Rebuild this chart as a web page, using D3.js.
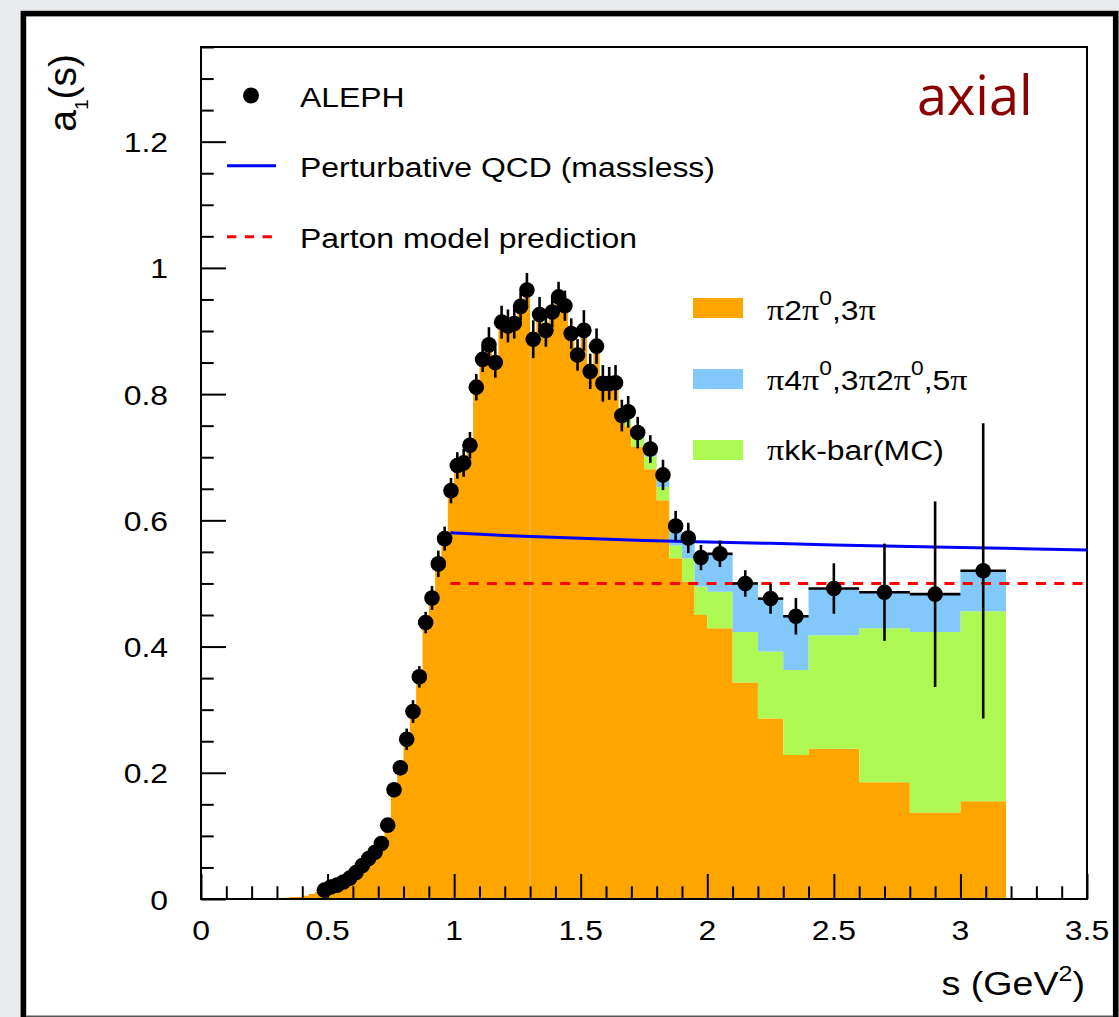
<!DOCTYPE html>
<html>
<head>
<meta charset="utf-8">
<script src="https://cdn.jsdelivr.net/npm/d3@7"></script>
<style>
  html, body { margin: 0; padding: 0; background: #e9ebee; }
  svg { display: block; }
  text { font-family: "Liberation Sans", Arial, Helvetica, sans-serif; fill: #000; }
</style>
</head>
<body>
<svg id="chart" width="1119" height="1017"></svg>
<script>
// ---- Binning (GeV^2): fine 0.025 bins up to 1.7, then progressively wider ----
const binEdges = [
  0.300, 0.325, 0.350, 0.375, 0.400, 0.425, 0.450, 0.475, 0.500, 0.525,
  0.550, 0.575, 0.600, 0.625, 0.650, 0.675, 0.700, 0.725, 0.750, 0.775,
  0.800, 0.825, 0.850, 0.875, 0.900, 0.925, 0.950, 0.975, 1.000, 1.025,
  1.050, 1.075, 1.100, 1.125, 1.150, 1.175, 1.200, 1.225, 1.250, 1.275,
  1.300, 1.325, 1.350, 1.375, 1.400, 1.425, 1.450, 1.475, 1.500, 1.525,
  1.550, 1.575, 1.600, 1.625, 1.650, 1.675, 1.700, 1.750, 1.800, 1.850,
  1.900, 1.950, 2.000, 2.100, 2.200, 2.300, 2.400, 2.600, 2.800, 3.000,
  3.180
];

// ALEPH measured axial-vector spectral function, one value per bin (null = no point)
const alephValue = [
  null, null, null, null, null, null, null, 0.014, 0.019, 0.022,
  0.027, 0.033, 0.042, 0.053, 0.064, 0.074, 0.088, 0.117, 0.173, 0.208,
  0.253, 0.297, 0.352, 0.438, 0.477, 0.531, 0.571, 0.647, 0.687, 0.691,
  0.719, 0.811, 0.855, 0.878, 0.850, 0.914, 0.908, 0.912, 0.939, 0.965,
  0.887, 0.926, 0.901, 0.930, 0.954, 0.940, 0.896, 0.862, 0.901, 0.836,
  0.876, 0.817, 0.817, 0.818, 0.766, 0.772, 0.739, 0.713, 0.672, 0.591,
  0.572, 0.541, 0.547, 0.500, 0.476, 0.448, 0.492, 0.486, 0.483, 0.520
];

// Statistical + systematic error on each ALEPH point
const alephError = [
  null, null, null, null, null, null, null, 0.004, 0.004, 0.004,
  0.004, 0.005, 0.005, 0.005, 0.005, 0.006, 0.006, 0.008, 0.010, 0.012,
  0.017, 0.018, 0.017, 0.017, 0.019, 0.021, 0.019, 0.020, 0.021, 0.022,
  0.021, 0.021, 0.020, 0.028, 0.024, 0.026, 0.026, 0.024, 0.022, 0.027,
  0.030, 0.028, 0.026, 0.024, 0.024, 0.024, 0.024, 0.025, 0.032, 0.028,
  0.028, 0.029, 0.026, 0.028, 0.025, 0.025, 0.025, 0.022, 0.024, 0.024,
  0.024, 0.020, 0.021, 0.021, 0.024, 0.029, 0.040, 0.077, 0.147, 0.234
];

// Stacked contributions per bin
const pi2pi0_3pi = [
  0.001, 0.002, 0.003, 0.003, 0.005, 0.008, 0.011, 0.014, 0.019, 0.022,
  0.027, 0.033, 0.042, 0.053, 0.064, 0.074, 0.088, 0.117, 0.173, 0.208,
  0.253, 0.297, 0.352, 0.438, 0.477, 0.531, 0.571, 0.647, 0.687, 0.691,
  0.719, 0.811, 0.855, 0.878, 0.850, 0.914, 0.908, 0.912, 0.939, 0.965,
  0.887, 0.926, 0.901, 0.930, 0.954, 0.940, 0.896, 0.862, 0.901, 0.836,
  0.876, 0.817, 0.815, 0.812, 0.755, 0.748, 0.716, 0.681, 0.632, 0.540,
  0.503, 0.450, 0.429, 0.343, 0.286, 0.228, 0.238, 0.185, 0.137, 0.155
];
const pikkbar = [
  0, 0, 0, 0, 0, 0, 0, 0, 0, 0,
  0, 0, 0, 0, 0, 0, 0, 0, 0, 0,
  0, 0, 0, 0, 0, 0, 0, 0, 0, 0,
  0, 0, 0, 0, 0, 0, 0, 0, 0, 0,
  0, 0, 0, 0, 0, 0, 0, 0, 0, 0,
  0, 0, 0.001, 0.004, 0.008, 0.018, 0.016, 0.020, 0.021, 0.020,
  0.037, 0.045, 0.058, 0.080, 0.106, 0.135, 0.180, 0.244, 0.286, 0.301
];
const pi4pi0_3pi2pi0_5pi = [
  0, 0, 0, 0, 0, 0, 0, 0, 0, 0,
  0, 0, 0, 0, 0, 0, 0, 0, 0, 0,
  0, 0, 0, 0, 0, 0, 0, 0, 0, 0,
  0, 0, 0, 0, 0, 0, 0, 0, 0, 0,
  0, 0, 0, 0, 0, 0, 0, 0, 0, 0,
  0, 0, 0.001, 0.002, 0.003, 0.006, 0.007, 0.011, 0.019, 0.031,
  0.031, 0.046, 0.060, 0.077, 0.084, 0.085, 0.074, 0.057, 0.060, 0.064
];

// Massless perturbative QCD prediction
const qcdS = [0.985, 1.25, 1.5, 1.75, 2.0, 2.25, 2.5, 2.75, 3.0, 3.25, 3.5];
const qcdA = [0.5805, 0.575, 0.5715, 0.568, 0.5655, 0.5635, 0.561, 0.559, 0.557, 0.555, 0.553];

// Naive parton model
const partonS = [0.985, 3.5];
const partonA = [0.5, 0.5];

// Axis ticks
const xMajorTicks = [0, 0.5, 1, 1.5, 2, 2.5, 3, 3.5];
const xTickLabels = ["0", "0.5", "1", "1.5", "2", "2.5", "3", "3.5"];
const yMajorTicks = [0, 0.2, 0.4, 0.6, 0.8, 1, 1.2];
const yTickLabels = ["0", "0.2", "0.4", "0.6", "0.8", "1", "1.2"];

const colOrange = "#ffa500";
const colBlue = "#82c8fa";
const colGreen = "#aef853";
const TEXT_STRETCH = 1.14;

// ---- Layout ----
const svg = d3.select("#chart");
const W = 1119, H = 1017;
const plot = { left: 201, right: 1087, top: 47, bottom: 899 };

const x = d3.scaleLinear().domain([0, 3.5]).range([plot.left, plot.right]);
const y = d3.scaleLinear().domain([0, 1.35]).range([plot.bottom, plot.top]);

// page background + framed white panel
svg.append("rect").attr("width", W).attr("height", H).attr("fill", "#e9ebee");
svg.append("rect")
  .attr("x", 23.4).attr("y", 13.6)
  .attr("width", 1092.3).attr("height", 1012)
  .attr("fill", "#fff").attr("stroke", "#000").attr("stroke-width", 5.6);
svg.append("line")
  .attr("x1", 26).attr("x2", 1113).attr("y1", 1016.3).attr("y2", 1016.3)
  .attr("stroke", "#555").attr("stroke-width", 1.4);

function stretched(parent, px, py, anchor, size) {
  return parent.append("text")
    .attr("transform", `translate(${px},${py}) scale(${TEXT_STRETCH},1)`)
    .attr("text-anchor", anchor)
    .style("font-size", size + "px");
}

// ---- Stacked histogram ----
const nBins = binEdges.length - 1;
const stack = d3.range(nBins).map(i => {
  const o = pi2pi0_3pi[i], g = pikkbar[i], b = pi4pi0_3pi2pi0_5pi[i];
  return { lo: binEdges[i], hi: binEdges[i + 1], o, g, b };
});
function stepPoints(lowerFn, upperFn) {
  const pts = stack.map(d => ({ e: d.lo, y0: lowerFn(d), y1: upperFn(d) }));
  const last = stack[stack.length - 1];
  pts.push({ e: last.hi, y0: lowerFn(last), y1: upperFn(last) });
  return pts;
}
const stepArea = d3.area()
  .x(p => x(p.e)).y0(p => y(p.y0)).y1(p => y(p.y1))
  .curve(d3.curveStepAfter);

const hist = svg.append("g");
hist.append("path")
  .attr("d", stepArea(stepPoints(() => 0, d => d.o)))
  .attr("fill", colOrange);
hist.append("path")
  .attr("d", stepArea(stepPoints(d => d.o, d => d.o + d.g)))
  .attr("fill", colGreen);
hist.append("path")
  .attr("d", stepArea(stepPoints(d => d.o + d.g, d => d.o + d.g + d.b)))
  .attr("fill", colBlue);
// seam between the two filled halves of the 3-pion histogram
hist.append("line")
  .attr("x1", x(1.3)).attr("x2", x(1.3))
  .attr("y1", y(0)).attr("y2", y(0.887))
  .attr("stroke", "#dcc27c").attr("stroke-width", 1);

// ---- Axes: ticks drawn inward ----
const axes = svg.append("g");
const xMinor = d3.range(0, 3.5001, 0.1).filter(v => Math.abs(v * 2 - Math.round(v * 2)) > 1e-6);
const yMinor = d3.range(0, 1.3501, 0.05).filter(v => Math.abs(v * 5 - Math.round(v * 5)) > 1e-6);

function tickAxis(axisGen, values, size, transform) {
  const g = axes.append("g").attr("transform", transform)
    .call(axisGen.tickValues(values).tickSizeInner(-size).tickSizeOuter(0).tickFormat(""));
  g.select(".domain").remove();
  g.selectAll(".tick line").attr("stroke", "#000").attr("stroke-width", 2);
}
tickAxis(d3.axisBottom(x), xMajorTicks, 25, `translate(0,${plot.bottom})`);
tickAxis(d3.axisBottom(x), xMinor, 12.7, `translate(0,${plot.bottom})`);
tickAxis(d3.axisLeft(y), yMajorTicks, 25, `translate(${plot.left},0)`);
tickAxis(d3.axisLeft(y), yMinor, 12.7, `translate(${plot.left},0)`);

// plot frame
svg.append("rect")
  .attr("x", plot.left).attr("y", plot.top)
  .attr("width", plot.right - plot.left).attr("height", plot.bottom - plot.top)
  .attr("fill", "none").attr("stroke", "#000").attr("stroke-width", 2);

// tick labels
xMajorTicks.forEach((v, i) => {
  stretched(svg, x(v), 940, "middle", 28).text(xTickLabels[i]);
});
yMajorTicks.forEach((v, i) => {
  stretched(svg, 168, y(v) + 10.5, "end", 28).text(yTickLabels[i]);
});

// axis titles
const xt = stretched(svg, 1085, 995, "end", 33);
xt.append("tspan").text("s (GeV");
xt.append("tspan").attr("dy", -14).style("font-size", "22px").text("2");
xt.append("tspan").attr("dy", 14).text(")");

const yt = svg.append("text")
  .attr("transform", "translate(76,54) rotate(-90)")
  .attr("text-anchor", "end")
  .style("font-size", "39px");
yt.append("tspan").text("a");
yt.append("tspan").attr("dy", 12).style("font-size", "19px").text("1");
yt.append("tspan").attr("dy", -12).text("(s)");

// ---- Theory curves ----
const curve = d3.line().x(d => x(d[0])).y(d => y(d[1]));
svg.append("path")
  .attr("d", curve(qcdS.map((s, i) => [s, qcdA[i]])))
  .attr("fill", "none").attr("stroke", "#0000ff").attr("stroke-width", 3);
svg.append("path")
  .attr("d", curve(partonS.map((s, i) => [s, partonA[i]])))
  .attr("fill", "none").attr("stroke", "#ff0000").attr("stroke-width", 3)
  .attr("stroke-dasharray", "10,8.3");

// ---- ALEPH points ----
const points = stack.map((d, i) => ({
  lo: d.lo, hi: d.hi, c: (d.lo + d.hi) / 2, v: alephValue[i], e: alephError[i]
})).filter(p => p.v !== null);

const pts = svg.append("g");
pts.selectAll("line.ey").data(points).join("line")
  .attr("x1", p => x(p.c)).attr("x2", p => x(p.c))
  .attr("y1", p => y(p.v - p.e)).attr("y2", p => y(p.v + p.e))
  .attr("stroke", "#000").attr("stroke-width", 2.6);
pts.selectAll("line.ex").data(points).join("line")
  .attr("x1", p => x(p.lo)).attr("x2", p => x(p.hi))
  .attr("y1", p => y(p.v)).attr("y2", p => y(p.v))
  .attr("stroke", "#000").attr("stroke-width", 2.6);
pts.selectAll("circle").data(points).join("circle")
  .attr("cx", p => x(p.c)).attr("cy", p => y(p.v)).attr("r", 7.8)
  .attr("fill", "#000");

// ---- Legends ----
const leg = svg.append("g");
leg.append("circle").attr("cx", 251).attr("cy", 95.5).attr("r", 8).attr("fill", "#000");
stretched(leg, 300, 106.5, "start", 28).text("ALEPH");
leg.append("line").attr("x1", 227).attr("x2", 276).attr("y1", 165.7).attr("y2", 165.7)
  .attr("stroke", "#0000ff").attr("stroke-width", 3);
stretched(leg, 300, 176.7, "start", 28).text("Perturbative QCD (massless)");
leg.append("line").attr("x1", 227).attr("x2", 272).attr("y1", 236.7).attr("y2", 236.7)
  .attr("stroke", "#ff0000").attr("stroke-width", 3).attr("stroke-dasharray", "9.3,8.5");
stretched(leg, 300, 248, "start", 28).text("Parton model prediction");

const serif = "'Liberation Serif', 'DejaVu Serif', serif";
function channelLabel(py, parts) {
  const t = stretched(leg, 767, py, "start", 28);
  parts.forEach(([str, kind]) => {
    const sp = t.append("tspan").text(str);
    if (kind === "pi") sp.style("font-family", serif).style("font-size", "30px");
    if (kind === "sup") sp.attr("dy", -15).style("font-size", "20px");
    if (kind === "after") sp.attr("dy", 15);
  });
}
const channelRows = [
  { y0: 298, color: colOrange, base: 320,
    parts: [["π", "pi"], ["2", ""], ["π", "pi"], ["0", "sup"], [",3", "after"], ["π", "pi"]] },
  { y0: 369, color: colBlue, base: 390,
    parts: [["π", "pi"], ["4", ""], ["π", "pi"], ["0", "sup"], [",3", "after"], ["π", "pi"],
            ["2", ""], ["π", "pi"], ["0", "sup"], [",5", "after"], ["π", "pi"]] },
  { y0: 440, color: colGreen, base: 460,
    parts: [["π", "pi"], ["kk-bar(MC)", ""]] }
];
channelRows.forEach(r => {
  leg.append("rect").attr("x", 693).attr("y", r.y0).attr("width", 50).attr("height", 20)
    .attr("fill", r.color);
  channelLabel(r.base, r.parts);
});

// panel tag
svg.append("text")
  .attr("x", 917).attr("y", 115)
  .style("font-family", "'Open Sans', 'Noto Sans', sans-serif")
  .style("font-size", "54px")
  .style("fill", "#8b0000")
  .text("axial");
</script>
</body>
</html>
